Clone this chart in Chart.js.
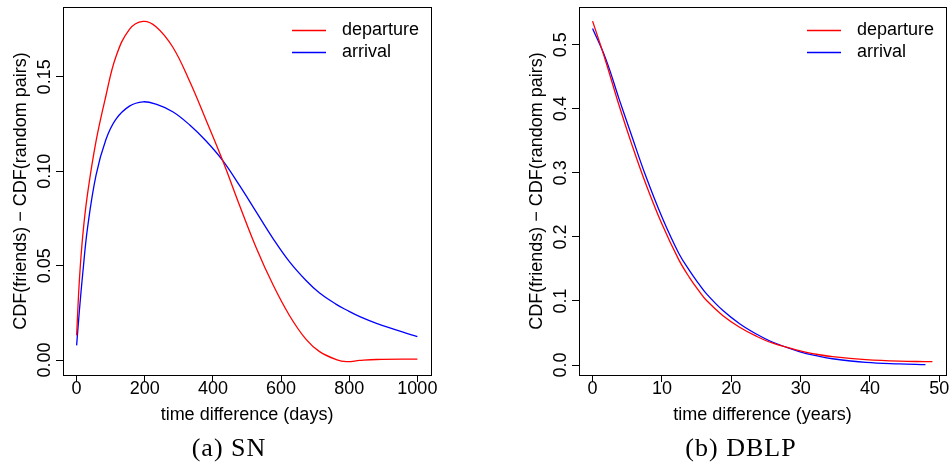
<!DOCTYPE html>
<html>
<head>
<meta charset="utf-8">
<script src="https://cdn.jsdelivr.net/npm/chart.js@4.4.0/dist/chart.umd.min.js"></script>
<style>
  body { margin: 0; background: #fff; }
  #wrap { position: relative; width: 952px; height: 473px; overflow: hidden; }
  .panel { position: absolute; top: 0; width: 476px; height: 435px; }
  .caption {
    position: absolute; top: 435px; width: 200px; text-align: center;
    font-family: "Liberation Serif", serif; font-size: 26px; line-height: 26px;
    letter-spacing: 1px; color: #000;
  }
</style>
</head>
<body>
<div id="wrap">
  <div class="panel" style="left:0"><canvas id="snChart" width="476" height="435"></canvas></div>
  <div class="panel" style="left:476px"><canvas id="dblpChart" width="476" height="435"></canvas></div>
  <div class="caption" style="left:129px">(a) SN</div>
  <div class="caption" style="left:641px">(b) DBLP</div>
</div>
<script>
// SN panel (time difference in days)
const snDays = [0, 8, 18, 32, 57, 86, 115, 155, 195, 233, 282, 332, 380, 430, 478, 527, 576, 625, 674, 713, 762, 792, 831, 880, 1000];
const snDeparture = [0.0131, 0.042, 0.066, 0.088, 0.116, 0.140, 0.1605, 0.1752, 0.1794, 0.1766, 0.1658, 0.1475, 0.127, 0.105, 0.082, 0.0595, 0.040, 0.0235, 0.0108, 0.0045, 0.0003, -0.0008, -0.0002, 0.0003, 0.0005];
const snArrival = [0.0078, 0.026, 0.046, 0.070, 0.098, 0.1168, 0.1275, 0.1345, 0.1368, 0.1355, 0.1315, 0.1245, 0.116, 0.1054, 0.0925, 0.0785, 0.0645, 0.052, 0.042, 0.0355, 0.0295, 0.0265, 0.023, 0.0195, 0.0124];
const snXTicks = [0, 200, 400, 600, 800, 1000];
const snYTicks = [0, 0.05, 0.10, 0.15];
const snYLabels = ['0.00', '0.05', '0.10', '0.15'];

// DBLP panel (time difference in years)
const dblpYears = [0, 1.9, 3.8, 5.7, 7.6, 10, 12.4, 14, 15.3, 16.4, 18.8, 21.2, 23.6, 26, 29.8, 32.7, 34.6, 39.4, 44.2, 48, 49];
const dblpDeparture = [0.537, 0.474, 0.406, 0.343, 0.285, 0.220, 0.165, 0.136, 0.116, 0.101, 0.077, 0.059, 0.045, 0.034, 0.0225, 0.016, 0.013, 0.0085, 0.006, 0.0053, 0.0052];
const dblpArrival = [0.5255, 0.478, 0.416, 0.356, 0.297, 0.231, 0.175, 0.147, 0.127, 0.1115, 0.085, 0.0645, 0.0485, 0.0355, 0.021, 0.0135, 0.0098, 0.0042, 0.0017, 0.0005, null];
const dblpXTicks = [0, 10, 20, 30, 40, 50];
const dblpYTicks = [0, 0.1, 0.2, 0.3, 0.4, 0.5];
const dblpYLabels = ['0.0', '0.1', '0.2', '0.3', '0.4', '0.5'];

const seriesNames = ['departure', 'arrival'];
const seriesColors = ['#ff0000', '#0000ff'];
const yTitle = 'CDF(friends) \u2212 CDF(random pairs)';

const FONT = 'Liberation Sans';

// R-style box, rotated y labels and inset legend
const rDecor = {
  id: 'rDecor',
  afterDraw(chart, args, opts) {
    const ctx = chart.ctx;
    const a = chart.chartArea;
    const ys = chart.scales.y;
    ctx.save();
    ctx.strokeStyle = '#000';
    ctx.lineWidth = 1;
    ctx.strokeRect(Math.round(a.left) + 0.5, Math.round(a.top) + 0.5,
      Math.round(a.right - a.left), Math.round(a.bottom - a.top));

    ctx.fillStyle = '#000';
    ctx.font = '18px "' + FONT + '"';
    ctx.textAlign = 'center';
    ctx.textBaseline = 'alphabetic';
    opts.yTicks.forEach((v, i) => {
      ctx.save();
      ctx.translate(a.left - 13, ys.getPixelForValue(v));
      ctx.rotate(-Math.PI / 2);
      ctx.fillText(opts.yLabels[i], 0, 0);
      ctx.restore();
    });

    ctx.textAlign = 'left';
    ctx.textBaseline = 'middle';
    chart.data.datasets.forEach((ds, i) => {
      const y = Math.round(a.top + 23 + i * 22.3) + 0.5;
      ctx.strokeStyle = ds.borderColor;
      ctx.lineWidth = 1.3;
      ctx.beginPath();
      ctx.moveTo(a.right - 139, y);
      ctx.lineTo(a.right - 105, y);
      ctx.stroke();
      ctx.fillText(ds.label, a.right - 89, y);
    });
    ctx.restore();
  }
};

function buildChart(id, x, series, cfg) {
  new Chart(document.getElementById(id), {
    type: 'line',
    data: {
      datasets: series.map((vals, k) => ({
        label: seriesNames[k],
        data: x.map((v, i) => ({ x: v, y: vals[i] })).filter(p => p.y !== null),
        borderColor: seriesColors[k],
        borderWidth: 1.3,
        pointRadius: 0,
        fill: false,
        tension: 0.4
      }))
    },
    options: {
      responsive: false,
      animation: false,
      events: [],
      layout: { padding: { top: 7, right: cfg.padRight, left: cfg.padLeft, bottom: 0 } },
      plugins: {
        legend: { display: false },
        tooltip: { enabled: false },
        rDecor: { yTicks: cfg.yTicks, yLabels: cfg.yLabels }
      },
      scales: {
        x: {
          type: 'linear',
          min: cfg.xMin,
          max: cfg.xMax,
          afterBuildTicks: s => { s.ticks = cfg.xTicks.map(v => ({ value: v })); },
          afterFit: s => { s.height = 60; },
          grid: { drawOnChartArea: false, drawTicks: true, tickLength: 7, color: '#000' },
          border: { color: '#000', width: 1 },
          ticks: {
            color: '#000', font: { family: FONT, size: 18 }, padding: -4,
            maxRotation: 0, autoSkip: false, callback: v => String(v)
          },
          title: {
            display: true, text: cfg.xTitle, color: '#000',
            font: { family: FONT, size: 18 }, padding: { top: 0, bottom: 9 }
          }
        },
        y: {
          type: 'linear',
          min: cfg.yMin,
          max: cfg.yMax,
          afterBuildTicks: s => { s.ticks = cfg.yTicks.map(v => ({ value: v })); },
          afterFit: s => { s.width = 63; },
          grid: { drawOnChartArea: false, drawTicks: true, tickLength: 7, color: '#000' },
          border: { color: '#000', width: 1 },
          ticks: { display: false },
          title: {
            display: true, text: yTitle, color: '#000',
            font: { family: FONT, size: 18 }, padding: { top: 10.5, bottom: 0 }
          }
        }
      }
    },
    plugins: [rDecor]
  });
}

buildChart('snChart', snDays, [snDeparture, snArrival], {
  xMin: -40, xMax: 1040, yMin: -0.0079, yMax: 0.187,
  xTicks: snXTicks, yTicks: snYTicks, yLabels: snYLabels,
  xTitle: 'time difference (days)', padLeft: 0, padRight: 45
});

buildChart('dblpChart', dblpYears, [dblpDeparture, dblpArrival], {
  xMin: -1.96, xMax: 50.96, yMin: -0.0156, yMax: 0.559,
  xTicks: dblpXTicks, yTicks: dblpYTicks, yLabels: dblpYLabels,
  xTitle: 'time difference (years)', padLeft: 40, padRight: 6
});
</script>
</body>
</html>
